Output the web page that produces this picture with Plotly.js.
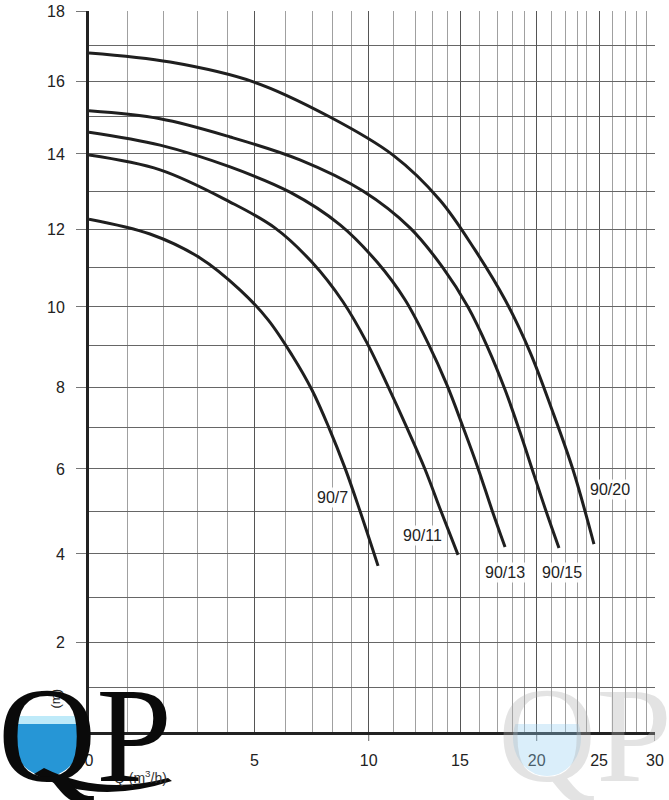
<!DOCTYPE html>
<html><head><meta charset="utf-8">
<script src="https://cdn.plot.ly/plotly-3.0.1.min.js"></script>
<style>html,body{margin:0;padding:0;background:#fff}#chart{width:669px;height:800px}</style>
</head><body><div id="chart"></div>
<script>
// ---- chart data (Q in m3/h, H in m) ----
const CURVE_NAMES = ['90/7', '90/11', '90/13', '90/15', '90/20'];
const Q_90_7  = [0, 1.62, 3.08, 4.46, 5.45, 6.25, 6.97, 7.83, 8.67, 9.5, 10.38];
const H_90_7  = [12.26, 11.87, 11.24, 10.43, 9.67, 8.78, 7.93, 6.98, 6.02, 5.0, 3.73];
const Q_90_11 = [0, 1.9, 4.09, 5.67, 6.97, 8.56, 9.9, 10.78, 11.63, 12.56, 13.55, 14.84];
const H_90_11 = [13.97, 13.57, 12.71, 12.03, 11.13, 10.13, 9.08, 8.02, 6.98, 6.0, 5.0, 3.98];
const Q_90_13 = [0, 1.9, 4.09, 6.18, 8.41, 10.34, 11.54, 12.73, 13.95, 15.15, 15.9, 16.68, 17.49];
const H_90_13 = [14.59, 14.24, 13.65, 12.97, 12.11, 11.13, 10.18, 9.08, 8.05, 7.0, 6.02, 5.02, 4.16];
const Q_90_15 = [0, 1.9, 4.09, 6.54, 9.67, 11.77, 13.69, 15.4, 16.45, 17.49, 18.59, 19.77, 20.62, 21.52];
const H_90_15 = [15.17, 14.95, 14.46, 13.84, 13.0, 12.03, 10.98, 10.0, 8.95, 7.93, 6.88, 5.86, 5.0, 4.14];
const Q_90_20 = [0, 2.19, 4.99, 7.88, 10.99, 13.49, 15.75, 17.49, 19.43, 21.02, 22.63, 24.59];
const H_90_20 = [16.8, 16.54, 15.97, 15.0, 13.97, 12.76, 11.45, 10.18, 8.85, 7.43, 5.98, 4.23];
const LABEL_Q = [8.03, 12.4, 17.49, 21.74, 25.8];
const LABEL_H = [5.33, 4.44, 3.59, 3.59, 5.52];

// ---- axis definition: the chart uses non-uniform (hand-drawn) scales ----
const Q_GRID = [0,1,2,3,4,5,6,7,8,9,10,11,12,13,14,15,16,17,18,19,20,21,22,23,24,25,26,27,28,29,30];
const Q_SCALE = [0,0.0684,0.1320,0.1920,0.2451,0.2921,0.3463,0.3952,0.4299,0.4634,0.4942,0.5376,0.5760,0.6072,0.6337,0.6555,0.6908,0.7221,0.7486,0.7703,0.7910,0.8175,0.8422,0.8627,0.8793,0.9011,0.9253,0.9470,0.9677,0.9853,1];
const H_GRID = [0,1,2,3,4,5,6,7,8,9,10,11,12,13,14,15,16,17,18];
const H_SCALE = [0,0.0624,0.1248,0.1859,0.2469,0.3065,0.3648,0.4230,0.4785,0.5354,0.5895,0.6449,0.6976,0.7503,0.8017,0.8530,0.9029,0.9515,1];
const Q_LABELED = [0,5,10,15,20,25,30];
const H_LABELED = [0,2,4,6,8,10,12,14,16,18];

function scaleOf(v, grid, pos) {
  for (let i = 0; i < grid.length - 1; i++) {
    if (v <= grid[i+1] || i === grid.length - 2) {
      return pos[i] + (v - grid[i]) / (grid[i+1] - grid[i]) * (pos[i+1] - pos[i]);
    }
  }
}
const qs = q => scaleOf(q, Q_GRID, Q_SCALE);
const hs = h => scaleOf(h, H_GRID, H_SCALE);

const SERIES = [[Q_90_7,H_90_7],[Q_90_11,H_90_11],[Q_90_13,H_90_13],[Q_90_15,H_90_15],[Q_90_20,H_90_20]];
const traces = SERIES.map((s, i) => ({
  type: 'scatter', mode: 'lines', name: CURVE_NAMES[i],
  x: s[0].map(qs), y: s[1].map(hs),
  line: {color: '#1f1f1f', width: 3, shape: 'spline', smoothing: 1},
  hoverinfo: 'skip'
}));
// small tick marks under the Q axis at 10, 20, 30
const Q_TICKMARKS = [10, 20, 30];

// ---- decoration helpers (pixel -> paper, for the logo only) ----
const L = 89, T = 11, W = 566, HH = 721;
const px = x => (x - L) / W;
const py = y => (T + HH - y) / HH;
function waterPath(cx, cy, rx, ry, level) {
  const s = Math.max(-1, Math.min(1, (level - cy) / ry));
  const t0 = Math.asin(s), t1 = Math.PI - t0;
  let d = '';
  const n = 40;
  for (let k = 0; k <= n; k++) {
    const t = t0 + (t1 - t0) * k / n;
    const X = cx + rx * Math.cos(t), Y = cy + ry * Math.sin(t);
    d += (k === 0 ? 'M' : 'L') + px(X).toFixed(4) + ',' + py(Y).toFixed(4);
  }
  return d + 'Z';
}
function p(x, y) { return px(x).toFixed(4) + ',' + py(y).toFixed(4); }
const swash = 'M' + p(34, 774) + ' Q' + p(95, 806) + ' ' + p(172, 781) + ' L' + p(168, 778) +
              ' Q' + p(100, 796) + ' ' + p(44, 768) + ' Z';

const font = 'Liberation Sans, Arial, sans-serif';
const annotations = CURVE_NAMES.map((n, i) => ({
  x: qs(LABEL_Q[i]), y: hs(LABEL_H[i]), xref: 'x', yref: 'y', text: n, showarrow: false,
  font: {family: font, size: 16, color: '#222'}, bgcolor: 'rgba(255,255,255,0.9)', borderpad: 1
}));
annotations.push(
  {xref:'paper', yref:'paper', x: px(112), y: py(788), text: 'Q (m<sup>3</sup>/h)', showarrow:false,
   font:{family: font, size: 14, color:'#333'}},
  {xref:'paper', yref:'paper', x: px(45), y: py(711), text: '(m)', textangle: -90, showarrow:false,
   font:{family: font, size: 13, color:'#222'}},
  {xref:'paper', yref:'paper', x: px(-4), y: py(812), xanchor:'left', yanchor:'bottom', text: 'QP', showarrow:false,
   font:{family: 'Liberation Serif, Times New Roman, serif', size: 136, color:'#0a0a0a'}},
  {xref:'paper', yref:'paper', x: px(496), y: py(812), xanchor:'left', yanchor:'bottom', text: 'QP', showarrow:false,
   font:{family: 'Liberation Serif, Times New Roman, serif', size: 136, color:'rgba(175,175,175,0.35)'}}
);

const shapes = Q_TICKMARKS.map(q => ({
  type:'line', xref:'x', yref:'paper', x0: qs(q), x1: qs(q), y0: 0, y1: py(741),
  line:{color:'#666', width:1}, layer:'below'
}));
shapes.push(
  {type:'path', xref:'paper', yref:'paper', path: waterPath(47, 738, 34, 38, 716), fillcolor:'rgb(190,234,249)', line:{width:0}, layer:'above'},
  {type:'path', xref:'paper', yref:'paper', path: waterPath(47, 738, 34, 38, 724), fillcolor:'rgb(38,150,214)', line:{width:0}, layer:'above'},
  {type:'path', xref:'paper', yref:'paper', path: swash, fillcolor:'#0a0a0a', line:{width:0}, layer:'above'},
  {type:'path', xref:'paper', yref:'paper', path: waterPath(547, 738, 34, 38, 724), fillcolor:'rgba(150,205,240,0.35)', line:{width:0}, layer:'above'}
);

const layout = {
  width: 669, height: 800,
  margin: {l: L, r: 669 - L - W, t: T, b: 800 - T - HH},
  paper_bgcolor: '#fff', plot_bgcolor: '#fff', showlegend: false,
  xaxis: {
    range: [0, 1], tickmode: 'array', tickvals: Q_LABELED.map(qs), ticktext: Q_LABELED.map(String),
    showgrid: true, gridcolor: '#555', gridwidth: 1, zeroline: false,
    minor: {tickmode: 'array', tickvals: Q_GRID.filter(q => q % 5).map(qs), showgrid: true, gridcolor: '#a0a0a0', gridwidth: 1, ticks: ''},
    ticks: '', showline: true, linecolor: '#222', linewidth: 3,
    tickfont: {family: font, size: 16, color: '#222'}, ticklabelstandoff: 12, fixedrange: true
  },
  yaxis: {
    range: [0, 1], tickmode: 'array', tickvals: H_LABELED.map(hs), ticktext: H_LABELED.map(String),
    showgrid: true, gridcolor: '#666', gridwidth: 1, zeroline: false,
    minor: {tickmode: 'array', tickvals: H_GRID.filter(h => h % 2).map(hs), showgrid: true, gridcolor: '#666', gridwidth: 1, ticks: ''},
    ticks: 'outside', ticklen: 10, tickcolor: '#777', tickwidth: 1,
    showline: true, linecolor: '#222', linewidth: 3,
    tickfont: {family: font, size: 16, color: '#222'}, ticklabelstandoff: 8, fixedrange: true
  },
  annotations: annotations, shapes: shapes
};
Plotly.newPlot('chart', traces, layout, {displayModeBar: false, staticPlot: true});
</script></body></html>
